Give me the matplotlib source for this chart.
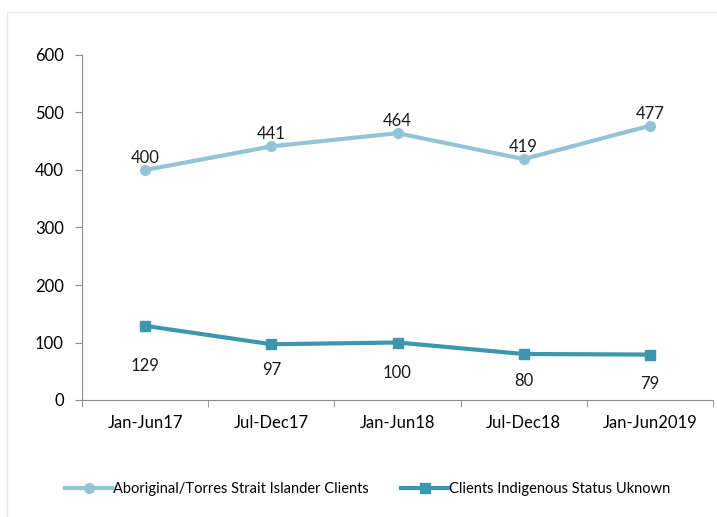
import matplotlib.pyplot as plt
from matplotlib.patches import Rectangle

periods = ["Jan-Jun17", "Jul-Dec17", "Jan-Jun18", "Jul-Dec18", "Jan-Jun2019"]
aboriginal = [400, 441, 464, 419, 477]
unknown = [129, 97, 100, 80, 79]
unknown_label_drop = [40, 26, 31, 27, 29]

LIGHT = "#93C4D5"
DARK = "#3C97AD"
GREY = "#8C8C8C"

plt.rcParams["font.family"] = ["Lato", "DejaVu Sans"]

fig = plt.figure(figsize=(7.17, 5.17), dpi=100)
fig.patches.append(Rectangle((7 / 717, -0.1), 1.2, (517 - 12) / 517 + 0.1,
                             transform=fig.transFigure, fill=False,
                             edgecolor="#E6E6E6", linewidth=1))
ax = fig.add_axes([82 / 717, (517 - 400) / 517, (713 - 82) / 717, (400 - 55) / 517])

x = list(range(len(periods)))
ax.plot(x, aboriginal, color=LIGHT, linewidth=3, marker="o", markersize=7,
        label="Aboriginal/Torres Strait Islander Clients")
ax.plot(x, unknown, color=DARK, linewidth=3, marker="s", markersize=7,
        label="Clients Indigenous Status Uknown")

for xi, v in zip(x, aboriginal):
    ax.annotate(str(v), (xi, v), xytext=(0, 3), textcoords="offset points",
                ha="center", va="bottom", fontsize=12, color="#1A1A1A")
for xi, v, d in zip(x, unknown, unknown_label_drop):
    ax.annotate(str(v), (xi, v), xytext=(0, -d * 0.72), textcoords="offset points",
                ha="center", va="center", fontsize=12, color="#1A1A1A")

ax.set_xlim(-0.5, len(periods) - 0.5)
ax.set_ylim(0, 600)
ax.set_yticks(range(0, 601, 100))
ax.set_xticks(x)
ax.set_xticklabels(periods, fontsize=12)
ax.tick_params(axis="x", length=0, pad=11)
ax.set_xticks([i - 0.5 for i in range(len(periods) + 1)], minor=True)
ax.tick_params(axis="x", which="minor", length=5, color=GREY, direction="out")
ax.tick_params(axis="y", length=5, color=GREY, labelsize=12, pad=8)

for side in ["top", "right"]:
    ax.spines[side].set_visible(False)
for side in ["left", "bottom"]:
    ax.spines[side].set_color(GREY)

fig.legend(loc="center", bbox_to_anchor=(368 / 717, 1 - 489 / 517), ncol=2,
           frameon=False, fontsize=10.5, handlelength=3.2, columnspacing=2.2,
           handletextpad=0.1)

plt.savefig("out.png", dpi=100)
